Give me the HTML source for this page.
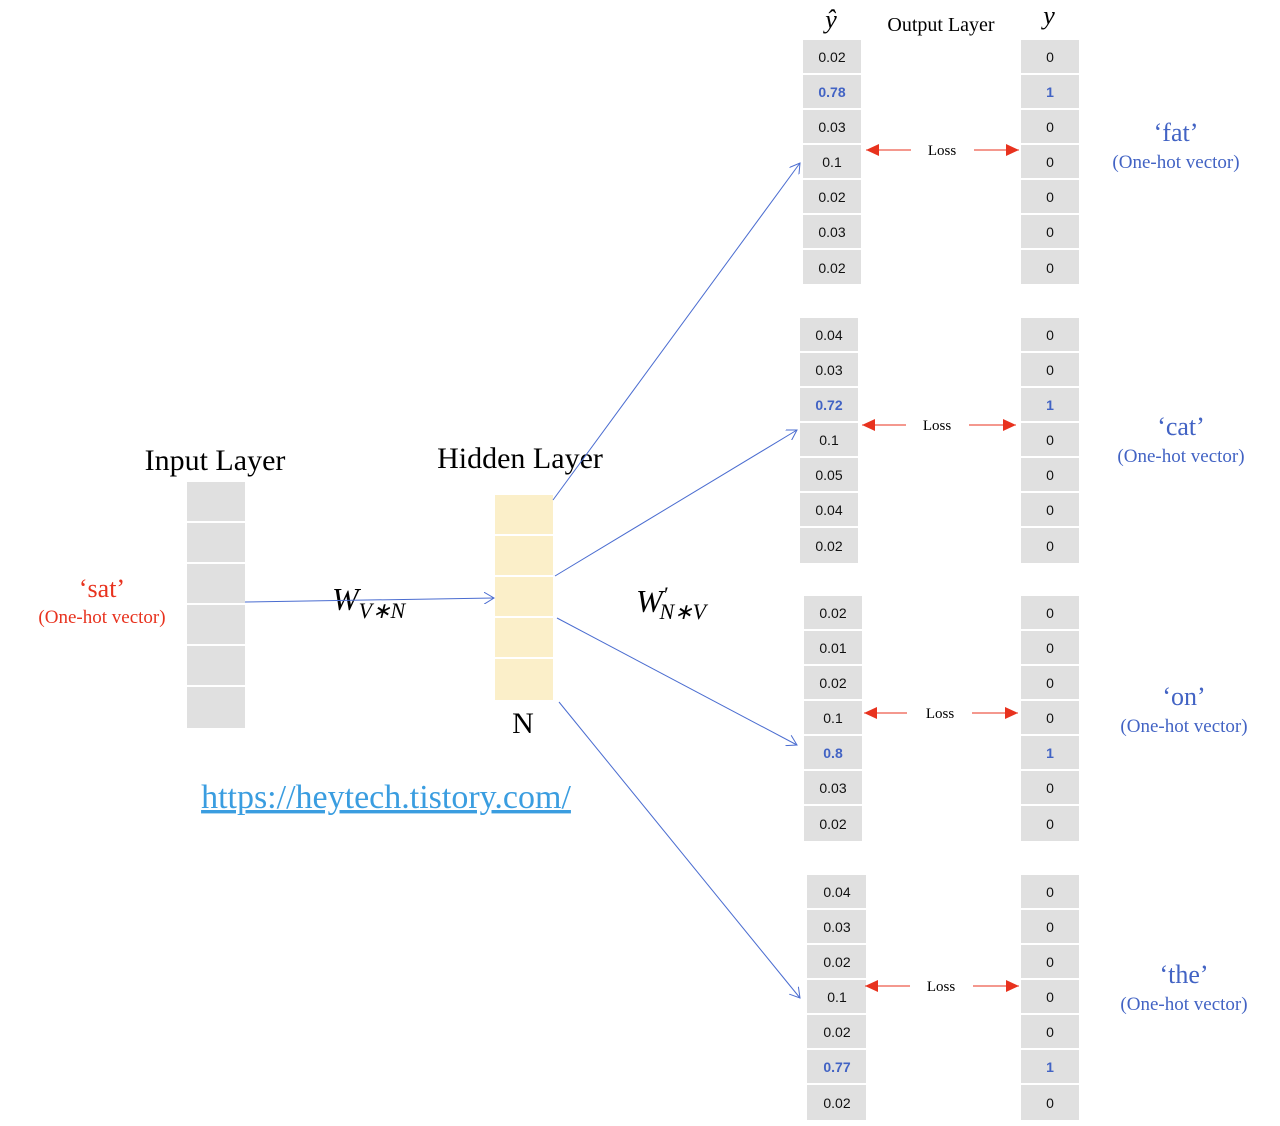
<!DOCTYPE html>
<html><head><meta charset="utf-8"><style>
html,body{margin:0;padding:0;background:#fff;}
svg{display:block}
.n{font-family:"Liberation Sans",sans-serif;font-size:14px;text-anchor:middle;fill:#111}
.b{fill:#4263c4;font-weight:bold}
.s{font-family:"Liberation Serif",serif}
</style></head><body>
<svg width="1280" height="1126" viewBox="0 0 1280 1126" xmlns="http://www.w3.org/2000/svg">
<defs>
<marker id="ab" markerWidth="12" markerHeight="12" refX="10" refY="6" orient="auto" markerUnits="userSpaceOnUse"><path d="M0,0 L10,6 L0,12" fill="none" stroke="#4a6cd0" stroke-width="1"/></marker>
<marker id="ar" markerWidth="14" markerHeight="12" refX="13" refY="6" orient="auto" markerUnits="userSpaceOnUse"><path d="M0,0 L13,6 L0,12 Z" fill="#e8321e"/></marker>
</defs>
<!-- input layer -->
<g fill="#e0e0e0">
<rect x="187" y="482" width="58" height="39"/><rect x="187" y="523" width="58" height="39"/><rect x="187" y="564" width="58" height="39"/><rect x="187" y="605" width="58" height="39"/><rect x="187" y="646" width="58" height="39"/><rect x="187" y="687" width="58" height="41"/>
</g>
<g fill="#fbefc9">
<rect x="495" y="495" width="58" height="39"/><rect x="495" y="536" width="58" height="39"/><rect x="495" y="577" width="58" height="39"/><rect x="495" y="618" width="58" height="39"/><rect x="495" y="659" width="58" height="41"/>
</g>
<text x="215" y="470" class="s" font-size="30" text-anchor="middle">Input Layer</text>
<text x="520" y="468" class="s" font-size="30" text-anchor="middle">Hidden Layer</text>
<text x="523" y="733" class="s" font-size="30" text-anchor="middle">N</text>
<text x="102" y="597" class="s" font-size="26" fill="#e8321e" text-anchor="middle">‘sat’</text>
<text x="102" y="623" class="s" font-size="19" fill="#e8321e" text-anchor="middle">(One-hot vector)</text>
<text x="386" y="808" class="s" font-size="34" fill="#3a9de0" text-anchor="middle" text-decoration="underline">https://heytech.tistory.com/</text>
<text x="332" y="610" class="s" font-size="32" font-style="italic">W<tspan font-size="22" dy="8">V∗N</tspan></text>
<text x="636" y="612" class="s" font-size="32" font-style="italic">W<tspan font-size="22" dy="-10">′</tspan><tspan font-size="22" dx="-8" dy="17">N∗V</tspan></text>
<g stroke="#4a6cd0" stroke-width="1" fill="none" marker-end="url(#ab)">
<line x1="245" y1="602" x2="494" y2="598"/>
<line x1="553" y1="500" x2="800" y2="163"/>
<line x1="555" y1="576" x2="797" y2="430"/>
<line x1="557" y1="618" x2="797" y2="745"/>
<line x1="559" y1="702" x2="800" y2="998"/>
</g>
<text x="831" y="28" class="s" font-size="26" font-style="italic" text-anchor="middle">ŷ</text>
<text x="941" y="31" class="s" font-size="20" text-anchor="middle">Output Layer</text>
<text x="1049" y="24" class="s" font-size="26" font-style="italic" text-anchor="middle">y</text>
<g id="cells"></g>
<!-- group 1 -->
<g>
<g fill="#e0e0e0">
<rect x="803" y="40" width="58" height="33"/><rect x="803" y="75" width="58" height="33"/><rect x="803" y="110" width="58" height="33"/><rect x="803" y="145" width="58" height="33"/><rect x="803" y="180" width="58" height="33"/><rect x="803" y="215" width="58" height="33"/><rect x="803" y="250" width="58" height="34"/>
<rect x="1021" y="40" width="58" height="33"/><rect x="1021" y="75" width="58" height="33"/><rect x="1021" y="110" width="58" height="33"/><rect x="1021" y="145" width="58" height="33"/><rect x="1021" y="180" width="58" height="33"/><rect x="1021" y="215" width="58" height="33"/><rect x="1021" y="250" width="58" height="34"/>
</g>
<text class="n" x="832" y="62">0.02</text><text class="n b" x="832" y="97">0.78</text><text class="n" x="832" y="132">0.03</text><text class="n" x="832" y="167">0.1</text><text class="n" x="832" y="202">0.02</text><text class="n" x="832" y="237">0.03</text><text class="n" x="832" y="273">0.02</text>
<text class="n" x="1050" y="62">0</text><text class="n b" x="1050" y="97">1</text><text class="n" x="1050" y="132">0</text><text class="n" x="1050" y="167">0</text><text class="n" x="1050" y="202">0</text><text class="n" x="1050" y="237">0</text><text class="n" x="1050" y="273">0</text>
<text x="942" y="155" class="s" font-size="15" text-anchor="middle">Loss</text>
<line x1="911" y1="150" x2="866" y2="150" stroke="#e8321e" marker-end="url(#ar)"/><line x1="974" y1="150" x2="1019" y2="150" stroke="#e8321e" marker-end="url(#ar)"/>
<text x="1176" y="141" class="s" font-size="26" fill="#4263c4" text-anchor="middle">‘fat’</text>
<text x="1176" y="168" class="s" font-size="19" fill="#4263c4" text-anchor="middle">(One-hot vector)</text>
</g>
<!-- group 2 -->
<g>
<g fill="#e0e0e0">
<rect x="800" y="318" width="58" height="33"/><rect x="800" y="353" width="58" height="33"/><rect x="800" y="388" width="58" height="33"/><rect x="800" y="423" width="58" height="33"/><rect x="800" y="458" width="58" height="33"/><rect x="800" y="493" width="58" height="33"/><rect x="800" y="528" width="58" height="35"/>
<rect x="1021" y="318" width="58" height="33"/><rect x="1021" y="353" width="58" height="33"/><rect x="1021" y="388" width="58" height="33"/><rect x="1021" y="423" width="58" height="33"/><rect x="1021" y="458" width="58" height="33"/><rect x="1021" y="493" width="58" height="33"/><rect x="1021" y="528" width="58" height="35"/>
</g>
<text class="n" x="829" y="340">0.04</text><text class="n" x="829" y="375">0.03</text><text class="n b" x="829" y="410">0.72</text><text class="n" x="829" y="445">0.1</text><text class="n" x="829" y="480">0.05</text><text class="n" x="829" y="515">0.04</text><text class="n" x="829" y="551">0.02</text>
<text class="n" x="1050" y="340">0</text><text class="n" x="1050" y="375">0</text><text class="n b" x="1050" y="410">1</text><text class="n" x="1050" y="445">0</text><text class="n" x="1050" y="480">0</text><text class="n" x="1050" y="515">0</text><text class="n" x="1050" y="551">0</text>
<text x="937" y="430" class="s" font-size="15" text-anchor="middle">Loss</text>
<line x1="906" y1="425" x2="862" y2="425" stroke="#e8321e" marker-end="url(#ar)"/><line x1="969" y1="425" x2="1016" y2="425" stroke="#e8321e" marker-end="url(#ar)"/>
<text x="1181" y="435" class="s" font-size="26" fill="#4263c4" text-anchor="middle">‘cat’</text>
<text x="1181" y="462" class="s" font-size="19" fill="#4263c4" text-anchor="middle">(One-hot vector)</text>
</g>
<!-- group 3 -->
<g>
<g fill="#e0e0e0">
<rect x="804" y="596" width="58" height="33"/><rect x="804" y="631" width="58" height="33"/><rect x="804" y="666" width="58" height="33"/><rect x="804" y="701" width="58" height="33"/><rect x="804" y="736" width="58" height="33"/><rect x="804" y="771" width="58" height="33"/><rect x="804" y="806" width="58" height="35"/>
<rect x="1021" y="596" width="58" height="33"/><rect x="1021" y="631" width="58" height="33"/><rect x="1021" y="666" width="58" height="33"/><rect x="1021" y="701" width="58" height="33"/><rect x="1021" y="736" width="58" height="33"/><rect x="1021" y="771" width="58" height="33"/><rect x="1021" y="806" width="58" height="35"/>
</g>
<text class="n" x="833" y="618">0.02</text><text class="n" x="833" y="653">0.01</text><text class="n" x="833" y="688">0.02</text><text class="n" x="833" y="723">0.1</text><text class="n b" x="833" y="758">0.8</text><text class="n" x="833" y="793">0.03</text><text class="n" x="833" y="829">0.02</text>
<text class="n" x="1050" y="618">0</text><text class="n" x="1050" y="653">0</text><text class="n" x="1050" y="688">0</text><text class="n" x="1050" y="723">0</text><text class="n b" x="1050" y="758">1</text><text class="n" x="1050" y="793">0</text><text class="n" x="1050" y="829">0</text>
<text x="940" y="718" class="s" font-size="15" text-anchor="middle">Loss</text>
<line x1="907" y1="713" x2="864" y2="713" stroke="#e8321e" marker-end="url(#ar)"/><line x1="972" y1="713" x2="1018" y2="713" stroke="#e8321e" marker-end="url(#ar)"/>
<text x="1184" y="705" class="s" font-size="26" fill="#4263c4" text-anchor="middle">‘on’</text>
<text x="1184" y="732" class="s" font-size="19" fill="#4263c4" text-anchor="middle">(One-hot vector)</text>
</g>
<!-- group 4 -->
<g>
<g fill="#e0e0e0">
<rect x="807" y="875" width="59" height="33"/><rect x="807" y="910" width="59" height="33"/><rect x="807" y="945" width="59" height="33"/><rect x="807" y="980" width="59" height="33"/><rect x="807" y="1015" width="59" height="33"/><rect x="807" y="1050" width="59" height="33"/><rect x="807" y="1085" width="59" height="35"/>
<rect x="1021" y="875" width="58" height="33"/><rect x="1021" y="910" width="58" height="33"/><rect x="1021" y="945" width="58" height="33"/><rect x="1021" y="980" width="58" height="33"/><rect x="1021" y="1015" width="58" height="33"/><rect x="1021" y="1050" width="58" height="33"/><rect x="1021" y="1085" width="58" height="35"/>
</g>
<text class="n" x="837" y="897">0.04</text><text class="n" x="837" y="932">0.03</text><text class="n" x="837" y="967">0.02</text><text class="n" x="837" y="1002">0.1</text><text class="n" x="837" y="1037">0.02</text><text class="n b" x="837" y="1072">0.77</text><text class="n" x="837" y="1108">0.02</text>
<text class="n" x="1050" y="897">0</text><text class="n" x="1050" y="932">0</text><text class="n" x="1050" y="967">0</text><text class="n" x="1050" y="1002">0</text><text class="n" x="1050" y="1037">0</text><text class="n b" x="1050" y="1072">1</text><text class="n" x="1050" y="1108">0</text>
<text x="941" y="991" class="s" font-size="15" text-anchor="middle">Loss</text>
<line x1="910" y1="986" x2="865" y2="986" stroke="#e8321e" marker-end="url(#ar)"/><line x1="973" y1="986" x2="1019" y2="986" stroke="#e8321e" marker-end="url(#ar)"/>
<text x="1184" y="983" class="s" font-size="26" fill="#4263c4" text-anchor="middle">‘the’</text>
<text x="1184" y="1010" class="s" font-size="19" fill="#4263c4" text-anchor="middle">(One-hot vector)</text>
</g>
</svg>
</body></html>
